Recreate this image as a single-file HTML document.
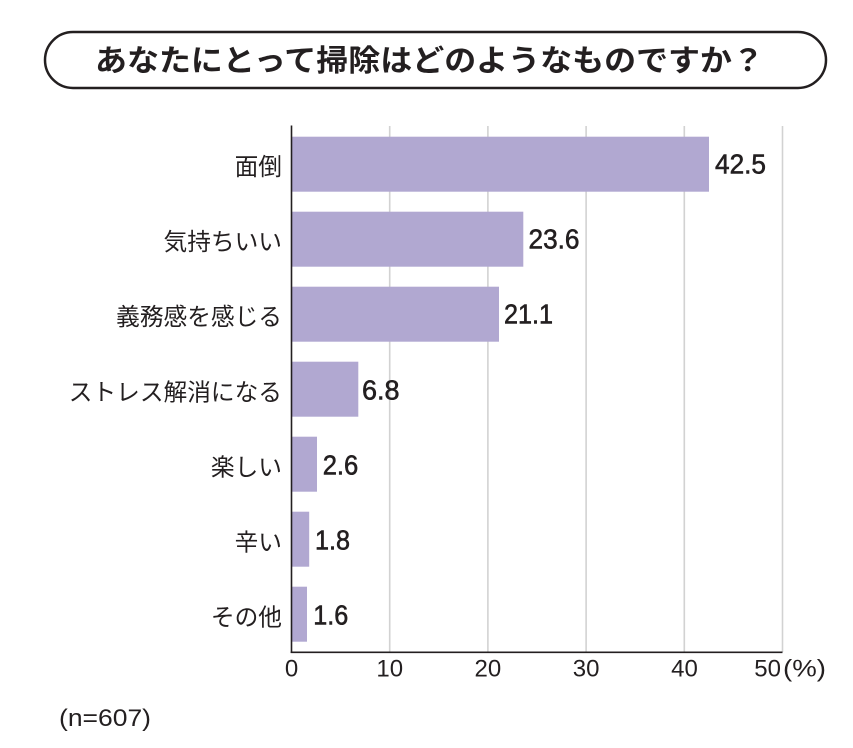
<!DOCTYPE html>
<html><head><meta charset="utf-8"><style>
html,body{margin:0;padding:0;background:#fff;}
svg{display:block;}
.cat{font-family:"Liberation Sans","Noto Sans CJK JP",sans-serif;font-size:23.7px;fill:#231f20;}
.val{font-family:"Liberation Sans",sans-serif;font-size:28px;font-weight:normal;fill:#231f20;stroke:#231f20;stroke-width:0.6px;}
.tick{font-family:"Liberation Sans",sans-serif;font-size:24px;fill:#231f20;}
</style></head><body>
<svg width="853" height="748" viewBox="0 0 853 748" xmlns="http://www.w3.org/2000/svg">
<rect x="0" y="0" width="853" height="748" fill="#fff"/>
<!-- title box -->
<rect x="45" y="32" width="781" height="56" rx="28" ry="28" fill="#fff" stroke="#231f20" stroke-width="2.5"/>
<text x="95" y="71" textLength="669" lengthAdjust="spacingAndGlyphs" style="font-family:'Liberation Sans','Noto Sans CJK JP',sans-serif;font-size:30px;font-weight:bold;fill:#231f20;">あなたにとって掃除はどのようなものですか？</text>

<!-- gridlines -->
<g stroke="#d2d2d2" stroke-width="1.6">
<line x1="389.7" y1="126" x2="389.7" y2="652"/>
<line x1="487.9" y1="126" x2="487.9" y2="652"/>
<line x1="586.1" y1="126" x2="586.1" y2="652"/>
<line x1="684.3" y1="126" x2="684.3" y2="652"/>
<line x1="782.5" y1="126" x2="782.5" y2="652"/>
</g>

<!-- bars -->
<g fill="#b1a8d1">
<rect x="291.5" y="136.7" width="417.5" height="55"/>
<rect x="291.5" y="211.7" width="231.8" height="55"/>
<rect x="291.5" y="286.7" width="207.5" height="55"/>
<rect x="291.5" y="361.7" width="66.8" height="55"/>
<rect x="291.5" y="436.7" width="25.5" height="55"/>
<rect x="291.5" y="511.7" width="17.7" height="55"/>
<rect x="291.5" y="586.7" width="15.5" height="55"/>
</g>

<!-- axes -->
<line x1="291.5" y1="125.5" x2="291.5" y2="653" stroke="#231f20" stroke-width="1.6"/>
<line x1="290.7" y1="652.3" x2="782.5" y2="652.3" stroke="#231f20" stroke-width="1.6"/>

<!-- category labels -->
<g text-anchor="end">
<text class="cat" x="282" y="175">面倒</text>
<text class="cat" x="282" y="250">気持ちいい</text>
<text class="cat" x="282" y="325">義務感を感じる</text>
<text class="cat" x="282" y="400.5">ストレス解消になる</text>
<text class="cat" x="282" y="475.5">楽しい</text>
<text class="cat" x="282" y="550.5">辛い</text>
<text class="cat" x="282" y="625.5">その他</text>
</g>

<!-- value labels -->
<text class="val" x="715" y="173.5" textLength="51" lengthAdjust="spacingAndGlyphs">42.5</text>
<text class="val" x="528.5" y="248.5" textLength="51" lengthAdjust="spacingAndGlyphs">23.6</text>
<text class="val" x="504" y="323.5" textLength="49" lengthAdjust="spacingAndGlyphs">21.1</text>
<text class="val" x="362" y="399.5" textLength="37.5" lengthAdjust="spacingAndGlyphs">6.8</text>
<text class="val" x="322.7" y="474.5" textLength="35.6" lengthAdjust="spacingAndGlyphs">2.6</text>
<text class="val" x="315" y="549.5" textLength="35" lengthAdjust="spacingAndGlyphs">1.8</text>
<text class="val" x="313.3" y="624.5" textLength="35" lengthAdjust="spacingAndGlyphs">1.6</text>

<!-- tick labels -->
<g text-anchor="middle">
<text class="tick" x="291.5" y="676.7">0</text>
<text class="tick" x="389.7" y="676.7">10</text>
<text class="tick" x="487.9" y="676.7">20</text>
<text class="tick" x="586.1" y="676.7">30</text>
<text class="tick" x="684.5" y="676.7">40</text>
</g>
<text class="tick" x="781" y="676.7" text-anchor="end">50</text>
<text class="tick" x="783" y="676.7" textLength="43" lengthAdjust="spacingAndGlyphs">(%)</text>

<text class="tick" x="59" y="726" textLength="92" lengthAdjust="spacingAndGlyphs">(n=607)</text>
</svg>
</body></html>
